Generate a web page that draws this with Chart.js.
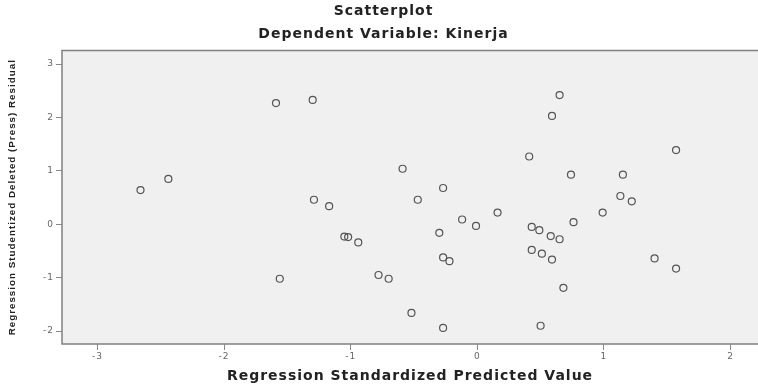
<!DOCTYPE html>
<html>
<head>
<meta charset="utf-8">
<script src="https://cdn.jsdelivr.net/npm/chart.js@4"></script>
<style>
  body { margin: 0; background: #fff; }
  #wrap { width: 758px; height: 385px; }
</style>
</head>
<body>
<div id="wrap"><canvas id="myChart" width="758" height="385"></canvas></div>
<script>
// values
const predictedValues = [
  -2.66, -2.44, -1.59, -1.30, -0.59, -0.47, -1.29, -1.17, -1.05, -1.02,
  -0.94, -1.56, -0.78, -0.70, -0.52, 0.65, 0.59, 0.41, 0.74, -0.27,
  0.99, 0.16, -0.12, -0.01, 0.76, -0.30, 0.43, 0.49, 0.58, 0.65,
  0.43, 0.51, 0.59, -0.27, -0.22, 0.68, -0.27, 0.50, 1.57, 1.15,
  1.13, 1.22, 1.40, 1.57
];
const deletedResiduals = [
  0.64, 0.85, 2.27, 2.33, 1.04, 0.46, 0.46, 0.34, -0.23, -0.24,
  -0.34, -1.02, -0.95, -1.02, -1.66, 2.42, 2.03, 1.27, 0.93, 0.68,
  0.22, 0.22, 0.09, -0.03, 0.04, -0.16, -0.05, -0.11, -0.22, -0.28,
  -0.48, -0.55, -0.66, -0.62, -0.69, -1.19, -1.94, -1.90, 1.39, 0.93,
  0.53, 0.43, -0.64, -0.83
];
const xTicks = [-3, -2, -1, 0, 1, 2];
const yTicks = [-2, -1, 0, 1, 2, 3];

const points = predictedValues.map((x, i) => ({ x: x, y: deletedResiduals[i] }));

const frame = {
  id: "frame",
  beforeDraw(chart) {
    const { ctx, chartArea: a } = chart;
    ctx.save();
    ctx.fillStyle = "#f0f0f0";
    ctx.fillRect(a.left, a.top, a.right - a.left, a.bottom - a.top);
    ctx.strokeStyle = "#808080";
    ctx.lineWidth = 1.5;
    ctx.strokeRect(a.left, a.top, a.right - a.left + 4, a.bottom - a.top);
    ctx.restore();
    ctx.letterSpacing = "1px";
  },
};

const tickFont = { family: "DejaVu Sans", size: 9 };
const boldFont = { family: "DejaVu Sans", size: 14, weight: "bold" };

new Chart(document.getElementById("myChart"), {
  type: "scatter",
  data: {
    datasets: [{
      label: "Kinerja",
      data: points,
      pointRadius: 3.5,
      pointHoverRadius: 3.5,
      pointBorderWidth: 1.2,
      pointBorderColor: "#555",
      pointBackgroundColor: "rgba(0,0,0,0)",
    }],
  },
  options: {
    responsive: false,
    animation: false,
    layout: { padding: { left: 9, right: 0, top: 0, bottom: 0 }, autoPadding: false },
    plugins: {
      legend: { display: false },
      tooltip: { enabled: false },
      title: {
        display: true,
        text: "Scatterplot",
        color: "#222",
        font: boldFont,
        padding: { top: 2.6, bottom: 0 },
      },
      subtitle: {
        display: true,
        text: "Dependent Variable: Kinerja",
        color: "#222",
        font: boldFont,
        padding: { top: 6.2, bottom: 8.1 },
      },
    },
    scales: {
      x: {
        type: "linear",
        min: -3.28,
        max: 2.217,
        afterBuildTicks: (s) => { s.ticks = xTicks.map((v) => ({ value: v })); },
        afterFit: (s) => { s.height = 41; },
        grid: { drawOnChartArea: false, tickLength: 6, color: "#888" },
        border: { display: false },
        ticks: { color: "#666", font: tickFont, padding: 1, maxRotation: 0 },
        title: {
          display: true,
          text: "Regression Standardized Predicted Value",
          color: "#222",
          font: boldFont,
          padding: { top: 0, bottom: 0 },
        },
      },
      y: {
        type: "linear",
        min: -2.242,
        max: 3.255,
        afterBuildTicks: (s) => { s.ticks = yTicks.map((v) => ({ value: v })); },
        afterFit: (s) => { s.width = 53; },
        grid: { drawOnChartArea: false, tickLength: 6, color: "#888" },
        border: { display: false },
        ticks: { color: "#666", font: tickFont, padding: 2 },
        title: {
          display: true,
          text: "Regression Studentized Deleted (Press) Residual",
          color: "#222",
          font: { family: "Liberation Sans", size: 9.8, weight: "bold" },
          padding: { top: -3, bottom: 0 },
        },
      },
    },
  },
  plugins: [frame],
});
</script>
</body>
</html>
